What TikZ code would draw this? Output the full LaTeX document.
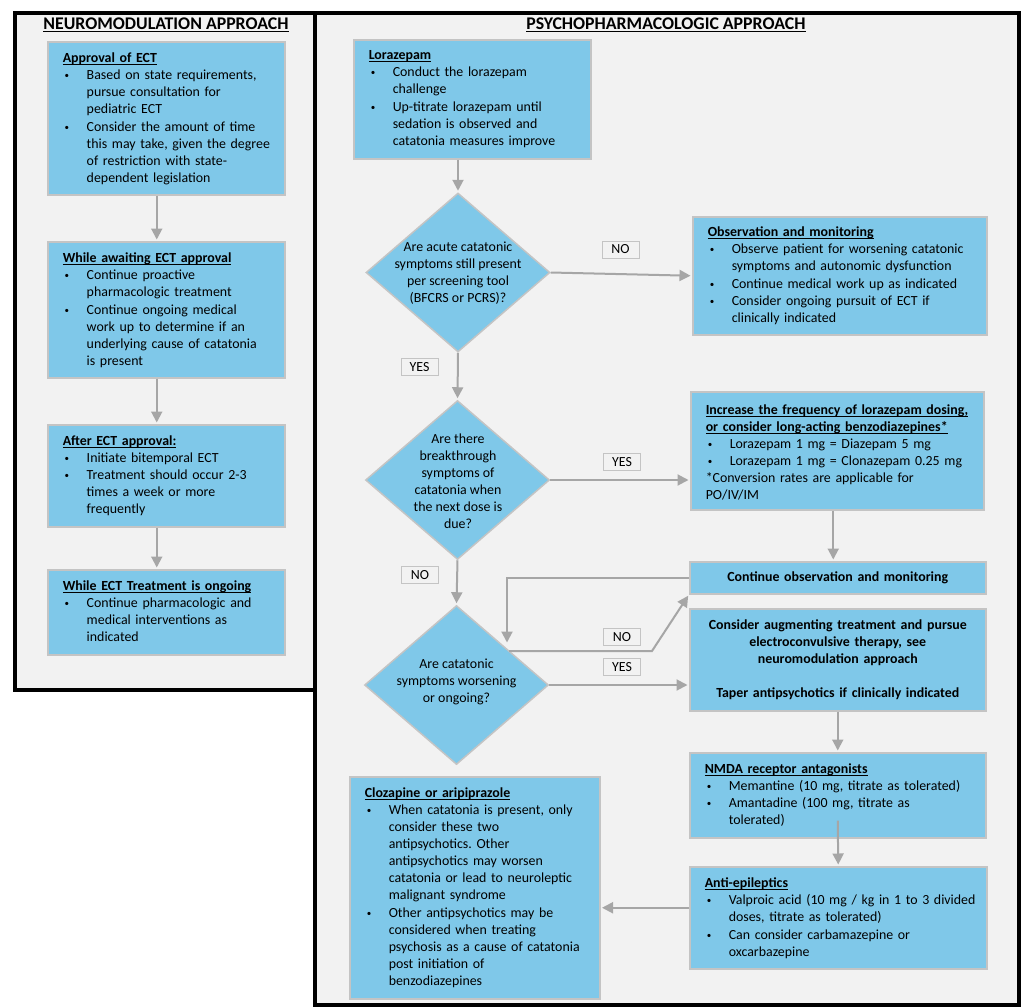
\documentclass[tikz,border=0pt]{standalone}
\usepackage{fontspec}
\setmainfont{Carlito}
\usetikzlibrary{arrows.meta,shapes.geometric,calc}
\frenchspacing
\definecolor{boxblue}{HTML}{7FC8E9}
\definecolor{panelgray}{HTML}{F2F2F2}
\definecolor{boxedge}{HTML}{C4C4C4}
\definecolor{arrgray}{HTML}{A6A6A6}
\newcommand{\bodyfont}{\fontsize{13.9}{17}\selectfont}
\newcommand{\uln}[1]{\leavevmode\setbox0\hbox{#1}\rlap{\rule[-2.2pt]{\wd0}{1pt}}\box0}
\newcommand{\hd}[1]{\noindent\textbf{\uln{#1}}\par}
\newcommand{\hdd}[2]{\noindent\textbf{\uln{#1}}\\\textbf{\uln{#2}}\par}
\newcommand{\bl}[1]{\noindent\hbox to 24pt{\hspace{2pt}\raisebox{1pt}{\fontsize{9}{9}\selectfont\textbullet}\hfil}\begin{tabular}[t]{@{}l@{}}#1\end{tabular}\par}
\tikzset{
  bx/.style={draw=boxedge, line width=1.5pt, fill=boxblue, anchor=north west,
    inner xsep=0pt, inner ysep=0pt, font=\bodyfont,
    execute at begin node={\leftskip=15pt\rightskip=0pt plus 1fil\parindent=0pt\frenchspacing},
    execute at end node={\par\vspace{-3.5pt}}},
  cbx/.style={draw=boxedge, line width=1.5pt, fill=boxblue, anchor=north west,
    inner xsep=0pt, inner ysep=0pt, font=\bodyfont\bfseries, align=center},
  dia/.style={diamond, draw=boxedge, line width=1.5pt, fill=boxblue,
    minimum width=184pt, minimum height=159pt, inner sep=0pt},
  diatext/.style={font=\bodyfont, align=center, inner sep=0pt},
  lbl/.style={draw=boxedge, line width=1pt, fill=panelgray, minimum width=37pt,
    minimum height=17pt, inner sep=0pt, font=\bodyfont},
  ttl/.style={font=\fontsize{17.8}{20}\selectfont\bfseries, inner sep=0pt},
  arr/.style={draw=arrgray, line width=2pt, -{Triangle[width=11pt,length=11pt]}, shorten >=1.5pt},
  panel/.style={draw=black, line width=3.5pt, fill=panelgray},
}
\begin{document}
\begin{tikzpicture}[x=1pt,y=-1pt]
\path[use as bounding box, fill=white] (0,0) rectangle (1023,1007);
% panels
\draw[panel] (315,13) rectangle (1019,1005);
\draw[panel] (15,13) rectangle (315,690);
\node[ttl] (t1) at (166,25) {\uln{NEUROMODULATION APPROACH}};
\node[ttl] (t2) at (666,25) {\uln{PSYCHOPHARMACOLOGIC APPROACH}};

% left column
\node[bx, text width=237pt, minimum height=153pt] (b1) at (47,41) {\hd{Approval of ECT}%
\bl{Based on state requirements,\\pursue consultation for\\pediatric ECT}%
\bl{Consider the amount of time\\this may take, given the degree\\of restriction with state-\\dependent legislation}};
\node[bx, text width=237pt, minimum height=136pt] (b2) at (47,241) {\hd{While awaiting ECT approval}%
\bl{Continue proactive\\pharmacologic treatment}%
\bl{Continue ongoing medical\\work up to determine if an\\underlying cause of catatonia\\is present}};
\node[bx, text width=237pt, minimum height=102pt] (b3) at (47,424) {\hd{After ECT approval:}%
\bl{Initiate bitemporal ECT}%
\bl{Treatment should occur 2-3\\times a week or more\\frequently}};
\node[bx, text width=237pt, minimum height=85pt] (b4) at (47,569) {\hd{While ECT Treatment is ongoing}%
\bl{Continue pharmacologic and\\medical interventions as\\indicated}};

\draw[arr] ([xshift=-9.5pt]b1.south) -- ([xshift=-9.5pt]b2.north);
\draw[arr] ([xshift=-9.5pt]b2.south) -- ([xshift=-9.5pt]b3.north);
\draw[arr] ([xshift=-9.5pt]b3.south) -- ([xshift=-9.5pt]b4.north);

% right column
\node[bx, text width=237pt, minimum height=119pt] (lor) at (353,39) {\hd{Lorazepam}%
\bl{Conduct the lorazepam\\challenge}%
\bl{Up-titrate lorazepam until\\sedation is observed and\\catatonia measures improve}};

\node[dia] (d1) at (458,272.5) {};
\node[diatext] (d1t) at (458,273.5) {Are acute catatonic\\symptoms still present\\per screening tool\\(BFCRS or PCRS)?};
\node[dia] (d2) at (457.5,480) {};
\node[diatext] (d2t) at (458,481.5) {Are there\\breakthrough\\symptoms of\\catatonia when\\the next dose is\\due?};
\node[dia] (d3) at (456.5,685) {};
\node[diatext] (d3t) at (456.5,681.5) {Are catatonic\\symptoms worsening\\or ongoing?};

\node[bx, text width=294pt, minimum height=118pt] (obs) at (692,216) {\hd{Observation and monitoring}%
\bl{Observe patient for worsening catatonic\\symptoms and autonomic dysfunction}%
\bl{Continue medical work up as indicated}%
\bl{Consider ongoing pursuit of ECT if\\clinically indicated}};
\node[bx, text width=293pt, minimum height=118pt] (inc) at (690,391) {\hdd{Increase the frequency of lorazepam dosing,}{or consider long-acting benzodiazepines*}%
\bl{Lorazepam 1 mg = Diazepam 5 mg}%
\bl{Lorazepam 1 mg = Clonazepam 0.25 mg}%
\noindent *Conversion rates are applicable for\\PO/IV/IM\par};
\node[cbx, text width=296pt, minimum height=32pt] (cont) at (689,561) {Continue observation and monitoring};
\node[cbx, text width=296pt, minimum height=102pt] (aug) at (689,608) {Consider augmenting treatment and pursue\\electroconvulsive therapy, see\\neuromodulation approach\\[17pt]Taper antipsychotics if clinically indicated};
\node[bx, text width=296pt, minimum height=85pt] (nmda) at (689,752) {\hd{NMDA receptor antagonists}%
\bl{Memantine (10 mg, titrate as tolerated)}%
\bl{Amantadine (100 mg, titrate as\\tolerated)}};
\node[bx, text width=297pt, minimum height=102pt] (anti) at (689,866) {\hd{Anti-epileptics}%
\bl{Valproic acid (10 mg / kg in 1 to 3 divided\\doses, titrate as tolerated)}%
\bl{Can consider carbamazepine or\\oxcarbazepine}};
\node[bx, text width=250pt, minimum height=222pt] (cloz) at (349,776) {\hd{Clozapine or aripiprazole}%
\bl{When catatonia is present, only\\consider these two\\antipsychotics. Other\\antipsychotics may worsen\\catatonia or lead to neuroleptic\\malignant syndrome}%
\bl{Other antipsychotics may be\\considered when treating\\psychosis as a cause of catatonia\\post initiation of\\benzodiazepines}};

% labels
\node[lbl] (l1) at (620.5,249.5) {NO};
\node[lbl] (l2) at (419.5,367) {YES};
\node[lbl] (l3) at (622,462) {YES};
\node[lbl] (l4) at (420,575) {NO};
\node[lbl] (l5) at (622,637) {NO};
\node[lbl] (l6) at (622,667) {YES};

% connectors
\draw[arr] (lor.south -| d1.north) -- (d1.north);
\draw[arr] (d1.east) -- (obs.west);
\draw[arr] (d1.south) -- (d2.north);
\draw[arr] (d2.east) -- (d2.east -| inc.west);
\draw[arr] (d2.south) -- (d3.north);
\draw[arr] ([xshift=-4pt]inc.south) -- ([xshift=-4pt]inc.south |- cont.north);
\coordinate (lpa) at (507,644);
\coordinate (lpb) at (509,651);
\coordinate (lpc) at (652,651);
\draw[arr] (cont.west) -| (lpa);
\draw[arr] (lpb) -- (lpc) -- (cont.south west);
\draw[arr] (d3.east) -- (d3.east -| aug.west);
\draw[arr] (aug.south) -- (nmda.north);
\draw[arr] ([yshift=18pt]nmda.south) -- (anti.north);
\draw[arr] ([yshift=10pt]anti.west) -- ([yshift=10pt]anti.west -| cloz.east);
\end{tikzpicture}
\end{document}
